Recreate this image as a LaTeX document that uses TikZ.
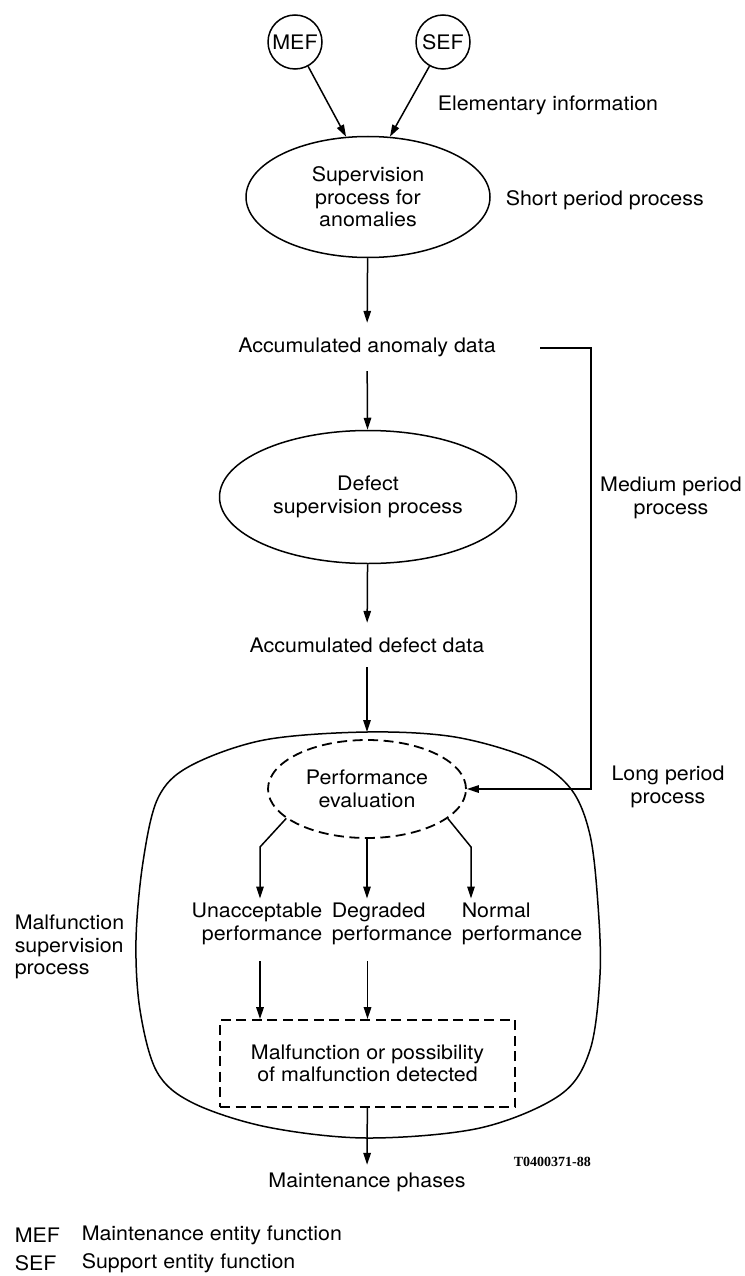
\documentclass[tikz,border=0pt]{standalone}
\usepackage{fontspec}
\setmainfont{TeX Gyre Heros}[FakeStretch=1.07]
\newfontfamily\codefont{Liberation Serif}
\usetikzlibrary{arrows.meta}
\usetikzlibrary{shapes.geometric}

\begin{document}
\begin{tikzpicture}[
        x=1pt, y=-1pt,
        line width=1.5pt,
        font=\fontsize{20}{22.5}\selectfont,
        arr/.style = {-{Triangle[length=12pt,width=7.5pt]}},
        entity/.style = {draw, circle, minimum size=54pt, inner sep=0pt},
        process/.style = {draw, ellipse, inner sep=0pt, align=center},
        datatxt/.style = {inner xsep=4pt, inner ysep=14pt},
        outcome/.style = {inner sep=4pt},
        note/.style = {anchor=west, align=left, inner sep=0pt},
        dashes/.style = {dash pattern=on 10pt off 5.5pt, line width=1.8pt}
    ]
    \useasboundingbox (0,0) rectangle (744,1276);

    % sources
    \node[entity] (MEF) at (295,42) {MEF};
    \node[entity] (SEF) at (443,42) {SEF};

    % main chain
    \node[process, minimum width=244pt, minimum height=121pt] (Sup) at (368,197)
        {Supervision\\process for\\anomalies};
    \node[datatxt] (Anom) at (367,347) {Accumulated anomaly data};
    \node[process, minimum width=297pt, minimum height=133pt] (Dsp) at (368,497)
        {Defect\\supervision process};
    \node[datatxt] (Defd) at (367,645) {Accumulated defect data};

    % malfunction supervision area
    \draw plot[smooth cycle, tension=0.55] coordinates {
            (367,732) (455,737) (531,759) (571,789) (590,835) (598,905)
            (600,975) (590,1050) (560,1095) (480,1128) (367,1138) (267,1127)
            (193,1103) (157,1072) (140,1010) (136,940) (143,862) (158,798)
            (190,766) (264,740)
        };
    \coordinate (MspTop) at (367,732);

    \node[process, dashes, minimum width=198pt, minimum height=98pt] (Perf) at (367,789)
        {Performance\\evaluation};
    \node[outcome, align=right] (Unacc) at (257,924) {Unacceptable\\performance};
    \node[outcome, align=left] (Degr) at (392,924) {Degraded\\performance};
    \node[outcome, align=left] (Norm) at (522,924) {Normal\\performance};
    \node[draw, dashes, minimum width=295pt, minimum height=87pt, align=center] (Malf)
        at (367.5,1063.5) {Malfunction or possibility\\of malfunction detected};
    \node[datatxt, inner ysep=7pt] (Maint) at (367,1182) {Maintenance phases};

    \coordinate (LBend) at (260,847);
    \coordinate (RBend) at (471,847);
    \coordinate (MedStart) at (540,348);
    \coordinate (MedCorner) at (591,348);

    % connectors
    \draw[arr] (MEF) -- (Sup.110);
    \draw[arr] (SEF) -- (Sup.70);
    \draw[arr] (Sup) -- (Anom);
    \draw[arr] (Anom) -- (Dsp);
    \draw[arr] (Dsp) -- (Defd);
    \draw[arr] (Defd) -- (MspTop);
    \draw[arr] (MedStart) -- (MedCorner) |- (Perf.east);
    \draw[arr] (Perf.200) -- (LBend) -- (LBend |- Unacc.north);
    \draw[arr] (Perf.south) -- (Perf.south |- Degr.north);
    \draw[arr] (Perf.-20) -- (RBend) -- (RBend |- Norm.north);
    \draw[arr, shorten <=12pt] (LBend |- Unacc.south) -- (LBend |- Malf.north);
    \draw[arr, shorten <=12pt] (Malf.north |- Degr.south) -- (Malf.north);
    \draw[arr] (Malf) -- (Maint);

    % side notes
    \node[note] (Elem) at (437,105) {Elementary information};
    \node[note] (Short) at (505,200) {Short period process};
    \node[align=center, inner sep=0pt] (Medium) at (671,498) {Medium period\\process};
    \node[align=center, inner sep=0pt] (Long) at (668,787) {Long period\\process};
    \node[note] (MspLabel) at (14,947) {Malfunction\\supervision\\process};
    \node[note, font=\codefont\fontsize{14}{16}\selectfont\bfseries] (Code) at (513,1162) {T0400371-88};

    % legend
    \node[note] (MEFKey) at (14,1235) {MEF};
    \node[note] (MEFText) at (81,1235) {Maintenance entity function};
    \node[note] (SEFKey) at (14,1263) {SEF};
    \node[note] (SEFText) at (81,1263) {Support entity function};
\end{tikzpicture}
\end{document}
